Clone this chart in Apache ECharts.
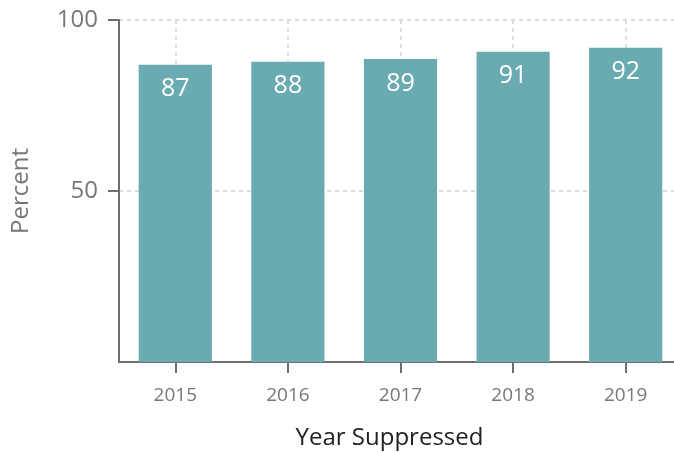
<!DOCTYPE html>
<html>
<head>
<meta charset="utf-8">
<script src="https://cdn.jsdelivr.net/npm/echarts@6/dist/echarts.min.js"></script>
<style>
  html, body { margin: 0; padding: 0; background: #fff; }
  #main { width: 674px; height: 452px; }
</style>
</head>
<body>
<div id="main"></div>
<script>
var years = ['2015', '2016', '2017', '2018', '2019'];
var percent = [86.9, 87.8, 88.6, 90.7, 91.9];
var yTicks = [50, 100];

var font = '"Open Sans", sans-serif';
var chart = echarts.init(document.getElementById('main'));

chart.setOption({
    animation: false,
    grid: {
        left: 119,
        right: -8,
        top: 20,
        bottom: 90,
        containLabel: false,
        outerBoundsMode: 'none'
    },
    xAxis: {
        type: 'category',
        data: years,
        name: 'Year Suppressed',
        nameLocation: 'middle',
        nameGap: 64,
        nameTextStyle: {
            color: '#222',
            fontFamily: font,
            fontSize: 24,
            padding: [0, 22, 0, 0]
        },
        axisLine: { lineStyle: { color: '#6f6f6f', width: 2 } },
        axisTick: {
            show: true,
            alignWithLabel: true,
            length: 11,
            lineStyle: { color: '#6f6f6f', width: 2 }
        },
        axisLabel: {
            color: '#777',
            fontFamily: font,
            fontSize: 19,
            margin: 24
        },
        splitLine: {
            show: true,
            alignWithLabel: true,
            lineStyle: { color: '#d4d4d4', type: [4, 4], width: 1.5 }
        }
    },
    yAxis: {
        type: 'value',
        min: 0,
        max: 100,
        interval: 50,
        name: 'Percent',
        nameLocation: 'middle',
        nameGap: 86,
        nameTextStyle: {
            color: '#777',
            fontFamily: font,
            fontSize: 24
        },
        axisLine: { show: true, lineStyle: { color: '#6f6f6f', width: 2 } },
        axisTick: {
            show: true,
            length: 11,
            customValues: yTicks,
            lineStyle: { color: '#6f6f6f', width: 2 }
        },
        axisLabel: {
            color: '#777',
            fontFamily: font,
            fontSize: 24,
            margin: 21,
            customValues: yTicks
        },
        splitLine: {
            show: true,
            lineStyle: { color: '#d4d4d4', type: [4, 4], width: 1.5 }
        }
    },
    series: [{
        type: 'bar',
        data: percent,
        barCategoryGap: '35%',
        itemStyle: { color: '#6aabb1' },
        label: {
            show: true,
            position: 'insideTop',
            distance: 12,
            color: '#fff',
            fontFamily: font,
            fontSize: 25,
            formatter: function (p) {
                return Math.round(p.value);
            }
        }
    }]
});
</script>
</body>
</html>
